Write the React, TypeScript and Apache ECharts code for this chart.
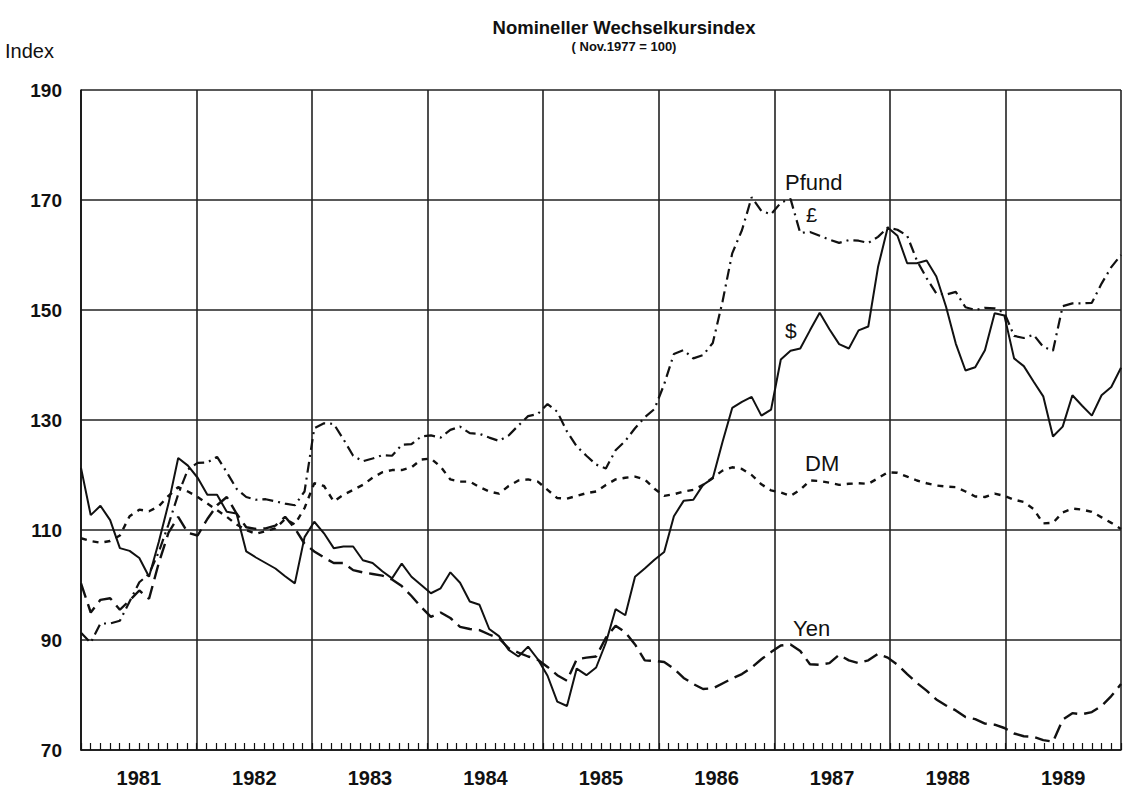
import React, { useEffect, useRef } from "react";
import * as echarts from "echarts";

const years = ["1981", "1982", "1983", "1984", "1985", "1986", "1987", "1988", "1989"];
const monthNames = ["01", "02", "03", "04", "05", "06", "07", "08", "09", "10", "11", "12"];
const yTicks = [70, 90, 110, 130, 150, 170, 190];

const usd = [
  121.3, 112.7, 114.4, 111.8, 106.7, 106.2, 104.9, 101.5, 107.8, 114.8, 123.1, 121.7,
  119.5, 116.4, 116.4, 113.3, 113, 106.1, 105, 104, 103, 101.6, 100.3, 108.7,
  111.5, 109.4, 106.7, 107, 107, 104.5, 104, 102.5, 101.2, 103.9, 101.5, 100,
  98.5, 99.4, 102.3, 100.4, 97, 96.4, 92, 90.7, 88.2, 87, 88.8, 86.5,
  83.5, 78.8, 78, 84.8, 83.6, 85, 89.5, 95.6, 94.5, 101.5, 103, 104.6,
  106, 112.5, 115.3, 115.5, 118.2, 119.4, 126, 132.2, 133.3, 134.2, 130.8, 131.9,
  141, 142.6, 143, 146.3, 149.5, 146.5, 143.8, 143, 146.3, 147, 157.8, 165,
  163.5, 158.5, 158.5, 159, 156.1, 150.6, 143.9, 139, 139.6, 142.7, 149.4, 149,
  141.2, 139.8, 137, 134.3, 127, 128.8, 134.5, 132.6, 130.8, 134.5, 136, 139.5,
];

const dm = [
  108.5, 108, 107.7, 108, 109, 112.5, 113.7, 113.4, 114.3, 116.2, 117.8, 117,
  116, 114.8, 113.6, 112.4, 111, 110, 109.3, 109.8, 110.3, 112, 111, 114,
  118.5, 118, 115.2, 116.4, 117.3, 118.2, 119.5, 120.5, 120.9, 120.9, 121.4, 122.8,
  123, 121.5, 119.2, 118.8, 118.8, 117.8, 117, 116.6, 118, 119, 119.2, 118.8,
  117.3, 115.8, 115.7, 116.2, 116.7, 117, 118.2, 119.2, 119.5, 119.7, 119.2, 117.5,
  116.2, 116.5, 117, 117.3, 118.2, 119.5, 120.8, 121.4, 121.1, 120, 118.3, 117.2,
  116.8, 116.2, 117.3, 119, 118.9, 118.6, 118.2, 118.4, 118.5, 118.4, 119.4, 120.5,
  120.4, 119.7, 119, 118.5, 118.1, 117.9, 117.8, 117, 116.1, 116, 116.6, 116.2,
  115.5, 115.1, 113.8, 111.2, 111.3, 113.2, 113.9, 113.7, 113.3, 112.3, 111.3, 110.2,
];

const yen = [
  100.3, 95, 97.3, 97.6, 95.5, 97.2, 99, 97.5, 104, 109.5, 112.4, 109.5,
  109, 112, 114.5, 116, 113, 110.5, 110.2, 110.3, 110.8, 112.4, 110.3, 107.5,
  106.1, 105, 104, 104, 102.7, 102.3, 102, 101.7, 101, 99.8, 98, 96,
  94.2, 95, 94, 92.4, 92, 91.8, 91, 90.3, 88.5, 87.7, 87, 86.4,
  85.1, 83.6, 82.6, 86.5, 86.8, 87, 90.4, 92.6, 91.4, 89.2, 86.3, 86.2,
  86, 84.8, 83.1, 82, 81.1, 81.2, 82.1, 83, 83.8, 85, 86.5, 87.8,
  89, 89.2, 88, 85.6, 85.5, 85.8, 87.3, 86.3, 85.8, 86.3, 87.5, 86.8,
  85.5, 83.8, 82.2, 80.8, 79.2, 78.1, 77.2, 76, 75.6, 74.8, 74.6, 74,
  73, 72.5, 72.4, 71.8, 71.5, 75.5, 76.7, 76.5, 76.9, 78, 79.8, 82,
];

const gbp = [
  91.3, 89.5, 93, 93, 93.5, 97, 100.5, 102, 106, 111, 116.5, 121,
  122.2, 122.3, 123.3, 120.5, 117.5, 116, 115.5, 115.6, 115.2, 114.8, 114.5, 117,
  128.5, 129.4, 129.3, 126.5, 123.5, 122.5, 123, 123.6, 123.5, 125.5, 125.6, 127,
  127.2, 126.8, 128.2, 128.8, 127.6, 127.5, 126.8, 126.2, 127.2, 129, 130.7, 131.1,
  132.9, 131.5, 127.9, 125.2, 123.5, 121.9, 121.2, 124.5, 126.2, 128.5, 130.5, 132,
  136.5, 142, 142.7, 141.2, 141.8, 144, 151.5, 160.3, 164.5, 170.5, 168, 167.4,
  169.5, 170.2, 164, 164.2, 163.5, 162.8, 162.2, 162.7, 162.6, 162.2, 163.3, 165,
  164.6, 163.5, 159, 155.8, 153, 152.8, 153.3, 150.5, 150, 150.4, 150.3, 149.5,
  145.3, 144.9, 145.5, 143.3, 142.6, 150.7, 151.2, 151.2, 151.3, 154.8, 157.8, 160,
];

const months: string[] = [];
years.forEach((y) => monthNames.forEach((m) => months.push(y + "-" + m)));

const FONT = "'Liberation Sans', Arial, Helvetica, sans-serif";
const INK = "#111";

export default function App() {
  const ref = useRef<HTMLDivElement>(null);

  useEffect(() => {
    if (!ref.current) return;
    const chart = echarts.init(ref.current, undefined, { renderer: "svg" });
    const lineSeries = (name: string, data: number[], type: any, width: number) => ({
      name,
      type: "line",
      xAxisIndex: 1,
      yAxisIndex: 0,
      data,
      symbol: "none",
      smooth: false,
      lineStyle: { color: INK, width, type },
      z: 5,
    });
    chart.setOption({
      animation: false,
      backgroundColor: "#fff",
      textStyle: { fontFamily: FONT },
      title: {
        text: "Nomineller Wechselkursindex",
        subtext: "( Nov.1977 = 100)",
        left: 619,
        top: 13,
        textAlign: "center",
        itemGap: 3,
        textStyle: { fontFamily: FONT, fontSize: 18.5, fontWeight: "bold", color: INK },
        subtextStyle: { fontFamily: FONT, fontSize: 13, fontWeight: "bold", color: INK },
      },
      grid: { left: 81, right: 8, top: 90, bottom: 47, containLabel: false },
      xAxis: [
        {
          type: "value",
          min: 0,
          max: 108,
          interval: 12,
          position: "bottom",
          axisLine: { show: true, lineStyle: { color: INK, width: 1.6 } },
          axisTick: { show: true, inside: true, length: 7, lineStyle: { color: INK, width: 1.2 } },
          minorTick: { show: true, splitNumber: 12, length: 7, lineStyle: { color: INK, width: 1.2 } },
          axisLabel: { show: false },
          splitLine: { show: true, lineStyle: { color: "#222", width: 1.6 } },
        },
        {
          type: "category",
          data: months,
          boundaryGap: false,
          show: false,
        },
        {
          type: "category",
          data: years,
          boundaryGap: true,
          position: "bottom",
          axisLine: { show: false },
          axisTick: { show: false },
          splitLine: { show: false },
          axisLabel: {
            show: true,
            margin: 18,
            fontFamily: FONT,
            fontSize: 20,
            fontWeight: "bold",
            color: INK,
          },
        },
      ],
      yAxis: [
        {
          type: "value",
          min: yTicks[0],
          max: yTicks[yTicks.length - 1],
          interval: 20,
          axisLine: { show: true, lineStyle: { color: INK, width: 1.6 } },
          axisTick: { show: false },
          axisLabel: {
            margin: 19,
            fontFamily: FONT,
            fontSize: 19,
            fontWeight: "bold",
            color: INK,
          },
          splitLine: { show: true, lineStyle: { color: "#222", width: 1.6 } },
        },
      ],
      series: [
        lineSeries("$", usd, "solid", 2),
        lineSeries("DM", dm, [6, 6], 2.4),
        lineSeries("Yen", yen, [15, 7], 2.4),
        lineSeries("Pfund", gbp, [11, 5, 2, 5], 2.2),
      ],
      graphic: [
        { type: "text", left: 5, top: 41, style: { text: "Index", font: `20px ${FONT}`, fill: INK } },
        { type: "text", left: 785, top: 171, style: { text: "Pfund", font: `22px ${FONT}`, fill: INK } },
        { type: "text", left: 806, top: 205, style: { text: "£", font: `20px ${FONT}`, fill: INK } },
        { type: "text", left: 785, top: 320, style: { text: "$", font: `21px ${FONT}`, fill: INK } },
        { type: "text", left: 805, top: 452, style: { text: "DM", font: `22px ${FONT}`, fill: INK } },
        { type: "text", left: 793, top: 617, style: { text: "Yen", font: `22px ${FONT}`, fill: INK } },
      ],
    });
    return () => chart.dispose();
  }, []);

  return (
    <div
      ref={ref}
      style={{ position: "fixed", left: 0, top: 0, width: 1129, height: 797, background: "#fff" }}
    />
  );
}
